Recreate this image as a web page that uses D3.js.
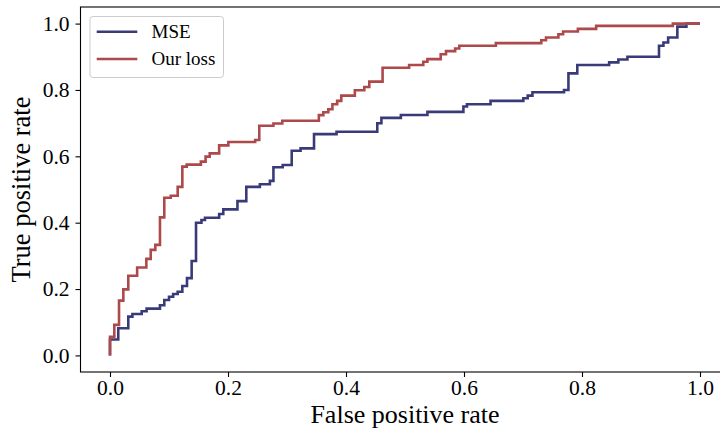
<!DOCTYPE html>
<html>
<head>
<meta charset="utf-8">
<script src="https://cdn.jsdelivr.net/npm/d3@7/dist/d3.min.js"></script>
<style>
  html, body { margin: 0; padding: 0; background: #fff; }
  svg { display: block; }
  text { font-family: "Liberation Serif", "Times New Roman", serif; fill: #000; }
</style>
</head>
<body>
<svg id="chart" width="720" height="432"></svg>
<script>
// ROC step points (false positive rate, true positive rate)
const mseFpr = [0, 0, 0.014, 0.031, 0.038, 0.0537, 0.062, 0.0847, 0.092, 0.1,
  0.107, 0.1147, 0.1226, 0.1305, 0.1384, 0.1458, 0.155, 0.161, 0.185, 0.192,
  0.216, 0.231, 0.254, 0.271, 0.277, 0.2927, 0.308, 0.323, 0.3458, 0.384,
  0.453, 0.46, 0.493, 0.538, 0.599, 0.605, 0.645, 0.7006, 0.708, 0.716,
  0.7695, 0.777, 0.792, 0.846, 0.8616, 0.877, 0.9305, 0.938, 0.946, 0.9616,
  0.977, 1];
const mseTpr = [0, 0.048, 0.082, 0.117, 0.125, 0.133, 0.141, 0.151, 0.167, 0.177,
  0.185, 0.192, 0.209, 0.233, 0.2845, 0.400, 0.408, 0.415, 0.426, 0.440,
  0.465, 0.508, 0.516, 0.526, 0.567, 0.574, 0.617, 0.624, 0.667, 0.674,
  0.6995, 0.716, 0.7245, 0.734, 0.75, 0.757, 0.767, 0.775, 0.783, 0.793,
  0.80, 0.85, 0.875, 0.883, 0.892, 0.90, 0.933, 0.943, 0.958, 0.991,
  1, 1];

const ourFpr = [0, 0, 0.0073, 0.0153, 0.0226, 0.031, 0.046, 0.0616, 0.069, 0.0768,
  0.0847, 0.092, 0.103, 0.1147, 0.1226, 0.13, 0.154, 0.162, 0.169, 0.185,
  0.2006, 0.246, 0.253, 0.277, 0.292, 0.354, 0.3616, 0.370, 0.377, 0.385,
  0.392, 0.415, 0.431, 0.4395, 0.462, 0.507, 0.531, 0.538, 0.5605, 0.5695,
  0.585, 0.592, 0.654, 0.731, 0.739, 0.76, 0.768, 0.793, 0.824, 0.954,
  1];
const ourTpr = [0, 0.056, 0.092, 0.165, 0.199, 0.240, 0.265, 0.291, 0.318, 0.333,
  0.416, 0.475, 0.481, 0.508, 0.569, 0.575, 0.584, 0.599, 0.609, 0.633,
  0.643, 0.649, 0.692, 0.699, 0.707, 0.724, 0.733, 0.742, 0.757, 0.767,
  0.783, 0.799, 0.809, 0.825, 0.867, 0.875, 0.885, 0.893, 0.9075, 0.917,
  0.925, 0.933, 0.941, 0.950, 0.958, 0.968, 0.976, 0.984, 0.993, 1,
  1];

const seriesNames = ["MSE", "Our loss"];
const seriesColors = ["#393b79", "#ad494a"];
const tickValues = [0, 0.2, 0.4, 0.6, 0.8, 1.0];
const xLabel = "False positive rate";
const yLabel = "True positive rate";

const series = [
  { name: seriesNames[0], color: seriesColors[0], pts: mseFpr.map((f, i) => [f, mseTpr[i]]) },
  { name: seriesNames[1], color: seriesColors[1], pts: ourFpr.map((f, i) => [f, ourTpr[i]]) }
];

const svg = d3.select("#chart");
const plotLeft = 80.5, plotRight = 729.5, plotTop = 7, plotBottom = 372;

const x = d3.scaleLinear().domain([-0.05, 1.05]).range([plotLeft, plotRight]);
const y = d3.scaleLinear().domain([-0.05, 1.05]).range([plotBottom, plotTop]);

svg.append("defs").append("clipPath").attr("id", "plotclip")
  .append("rect").attr("x", plotLeft).attr("y", plotTop)
  .attr("width", plotRight - plotLeft).attr("height", plotBottom - plotTop);

// curves
const line = d3.line()
  .x(d => x(d[0])).y(d => y(d[1]))
  .curve(d3.curveStepAfter);

const plot = svg.append("g").attr("clip-path", "url(#plotclip)");
series.forEach(s => {
  plot.append("path")
    .attr("d", line(s.pts))
    .attr("fill", "none")
    .attr("stroke", s.color)
    .attr("stroke-width", 2.6)
    .attr("stroke-linejoin", "miter")
    .attr("stroke-linecap", "butt");
});

// axes
const fmt = d3.format(".1f");
const xAxis = svg.append("g").attr("transform", `translate(0,${plotBottom})`)
  .call(d3.axisBottom(x).tickValues(tickValues).tickFormat(fmt).tickSize(5).tickPadding(3));
const yAxis = svg.append("g").attr("transform", `translate(${plotLeft},0)`)
  .call(d3.axisLeft(y).tickValues(tickValues).tickFormat(fmt).tickSize(5).tickPadding(6));
[xAxis, yAxis].forEach(a => {
  a.select(".domain").remove();
  a.selectAll(".tick line").attr("stroke", "#000").attr("stroke-width", 1.1);
  a.selectAll(".tick text")
    .attr("font-family", "Liberation Serif, Times New Roman, serif")
    .attr("font-size", 21.5).attr("fill", "#000");
});

// frame
svg.append("rect")
  .attr("x", plotLeft).attr("y", plotTop)
  .attr("width", plotRight - plotLeft).attr("height", plotBottom - plotTop)
  .attr("fill", "none").attr("stroke", "#000").attr("stroke-width", 1.1);

// axis titles
svg.append("text")
  .attr("x", (x(0) + x(1)) / 2).attr("y", 422.5)
  .attr("text-anchor", "middle").attr("font-size", 26)
  .text(xLabel);
svg.append("text")
  .attr("transform", `translate(30,${(y(0) + y(1)) / 2}) rotate(-90)`)
  .attr("text-anchor", "middle").attr("font-size", 26.5)
  .text(yLabel);

// legend
const lg = svg.append("g");
lg.append("rect")
  .attr("x", 90).attr("y", 16.5).attr("width", 133.5).attr("height", 61)
  .attr("rx", 3).attr("fill", "#fff").attr("fill-opacity", 0.8)
  .attr("stroke", "#cccccc").attr("stroke-width", 1);
series.forEach((s, i) => {
  const cy = 31.7 + i * 27.3;
  lg.append("line")
    .attr("x1", 96.7).attr("x2", 137.3).attr("y1", cy).attr("y2", cy)
    .attr("stroke", s.color).attr("stroke-width", 2.6);
  lg.append("text")
    .attr("x", 151.5).attr("y", cy).attr("dy", "0.33em")
    .attr("font-size", 19)
    .text(s.name);
});
</script>
</body>
</html>
